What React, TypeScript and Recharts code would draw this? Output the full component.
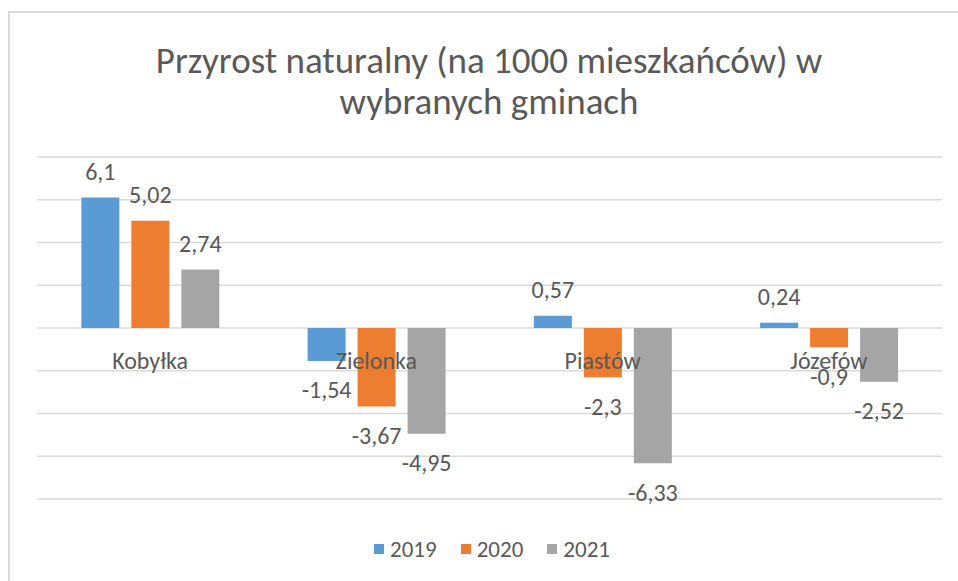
import React from "react";
import { BarChart, Bar, XAxis, YAxis, CartesianGrid, LabelList } from "recharts";

const categories = ["Kobyłka", "Zielonka", "Piastów", "Józefów"];
const values2019 = [6.1, -1.54, 0.57, 0.24];
const values2020 = [5.02, -3.67, -2.3, -0.9];
const values2021 = [2.74, -4.95, -6.33, -2.52];
const seriesNames = ["2019", "2020", "2021"];
const seriesColors = ["#5B9BD5", "#ED7D31", "#A5A5A5"];
const yTicks = [-8, -6, -4, -2, 0, 2, 4, 6, 8];

const data = categories.map((c, i) => ({
  name: c,
  s2019: values2019[i],
  s2020: values2020[i],
  s2021: values2021[i],
}));

const FONT = "Carlito, Lato, 'Open Sans', sans-serif";
const TEXT = "#595959";

const W = 958;
const H = 581;
const XAXIS_H = 30;
const M = { top: 157, right: 16, bottom: 82 - XAXIS_H, left: 37 };
const PLOT_H = H - M.top - M.bottom - XAXIS_H;

const fmt = (v: number) => String(v).replace(".", ",");

const ValueLabel = (props: any) => {
  const { x, y, width, height, value } = props;
  const top = Math.min(y, y + height);
  const bottom = Math.max(y, y + height);
  const cx = x + width / 2;
  const cy = value >= 0 ? top - 26 : bottom + 29;
  return (
    <text x={cx} y={cy} textAnchor="middle" dominantBaseline="central" fill={TEXT} fontSize={24} fontFamily={FONT}>
      {fmt(value)}
    </text>
  );
};

const CatTick = (props: any) => {
  const { x, y, payload } = props;
  const zeroY = y - PLOT_H / 2;
  return (
    <text x={x} y={zeroY + 32} textAnchor="middle" dominantBaseline="central" fill={TEXT} fontSize={24} fontFamily={FONT}>
      {payload.value}
    </text>
  );
};

const NoTick = () => <g />;

export default function App() {
  return (
    <div style={{ position: "absolute", left: 0, top: 0, width: W, height: H, background: "#fff", overflow: "hidden" }}>
      <div style={{ position: "absolute", left: 8, top: 11, width: W, height: H, borderTop: "2px solid #d9d9d9", borderLeft: "2px solid #d9d9d9" }} />
      <div style={{ position: "absolute", left: 10, top: 40, width: W, textAlign: "center", fontFamily: FONT, fontSize: 37, color: TEXT, lineHeight: "41px" }}>
        Przyrost naturalny (na 1000 mieszkańców) w<br />wybranych gminach
      </div>
      <div style={{ position: "absolute", left: 0, top: 0 }}>
        <BarChart width={W} height={H} data={data} margin={M} barCategoryGap="19.6%" barGap={12}>
          <CartesianGrid vertical={false} stroke="#d9d9d9" strokeWidth={1.5} horizontalValues={yTicks} />
          <YAxis width={0} domain={[-8, 8]} ticks={yTicks} tick={<NoTick />} axisLine={false} tickLine={false} />
          <XAxis dataKey="name" height={XAXIS_H} axisLine={false} tickLine={false} tickSize={0} tickMargin={0} tick={<CatTick />} interval={0} />
          <Bar dataKey="s2019" name="2019" fill={seriesColors[0]} isAnimationActive={false}>
            <LabelList dataKey="s2019" content={<ValueLabel />} />
          </Bar>
          <Bar dataKey="s2020" name="2020" fill={seriesColors[1]} isAnimationActive={false}>
            <LabelList dataKey="s2020" content={<ValueLabel />} />
          </Bar>
          <Bar dataKey="s2021" name="2021" fill={seriesColors[2]} isAnimationActive={false}>
            <LabelList dataKey="s2021" content={<ValueLabel />} />
          </Bar>
        </BarChart>
      </div>
      <div style={{ position: "absolute", left: 13, top: 535, width: W, display: "flex", justifyContent: "center", fontFamily: FONT, fontSize: 23, color: TEXT, lineHeight: "28px" }}>
        {seriesNames.map((n, i) => (
          <div key={n} style={{ display: "flex", alignItems: "center", marginRight: i < 2 ? 24 : 0 }}>
            <div style={{ width: 10, height: 10, background: seriesColors[i], marginRight: 6 }} />
            <span>{n}</span>
          </div>
        ))}
      </div>
    </div>
  );
}
